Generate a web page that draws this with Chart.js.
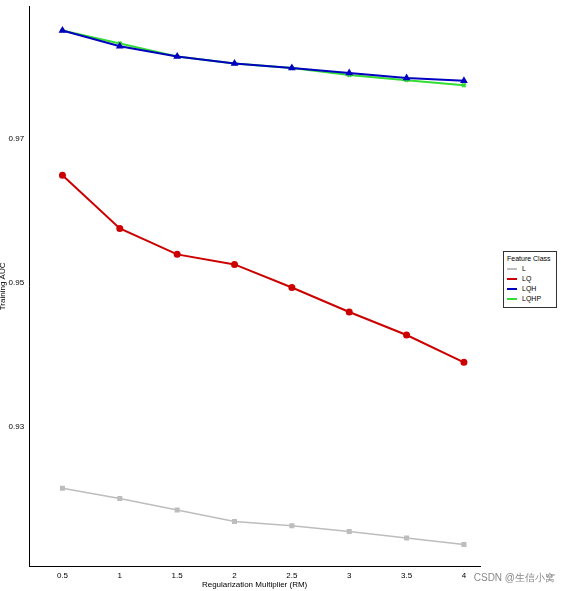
<!DOCTYPE html><html><head><meta charset="utf-8">
<script src="https://cdn.jsdelivr.net/npm/chart.js@4/dist/chart.umd.min.js"></script>
<style>body{margin:0;background:#fff;font-family:"Liberation Sans",Arial,sans-serif}
#w{position:relative;width:561px;height:591px}
#lg{position:absolute;left:503px;top:251px;width:54px;border:1px solid #333;background:#fff;font-size:7px;padding:3px 3px 2px 3px;box-sizing:border-box}
#lg div{margin:3px 0;display:flex;align-items:center}
#lg span.k{display:inline-block;width:10px;height:2px;margin-right:5px;position:relative}
#wm{position:absolute;right:6px;bottom:6px;font-size:10px;color:#888}
</style></head><body><div id="w"><canvas id="c" width="561" height="591"></canvas><div id="lg"></div><div id="wm">CSDN @生信小窝</div></div>
<script>
const xs=[0.5,1,1.5,2,2.5,3,3.5,4];
const names=["L","LQ","LQH","LQHP"];
const L=[0.9215,0.9201,0.9185,0.9169,0.9163,0.9155,0.9146,0.9137];
const LQ=[0.9650,0.9576,0.9540,0.9526,0.9494,0.9460,0.9428,0.9390];
const LQH=[0.9851,0.9829,0.9815,0.9805,0.9799,0.9792,0.9785,0.9781];
const LQHP=[0.9851,0.9833,0.9815,0.9805,0.9799,0.9789,0.9782,0.9775];
const yTicks=[0.93,0.95,0.97];
const colors=["#bdbdbd","#cc0000","#0000c0","#33dd33"];
const styles=["rect","circle","triangle","crossRot"];
const series=[L,LQ,LQH,LQHP];
const ds=series.map((s,i)=>({label:names[i],data:s.map((v,j)=>({x:xs[j],y:v})),borderColor:colors[i],backgroundColor:colors[i],pointStyle:styles[i],pointRadius:2.5,borderWidth:i==0?1.5:2}));
new Chart(document.getElementById('c'),{type:'line',data:{datasets:ds},options:{responsive:false,animation:false,
layout:{padding:{left:-2,right:81,top:5,bottom:-3}},
plugins:{legend:{display:false},tooltip:{enabled:false}},
scales:{x:{type:'linear',min:0.21,max:4.14,afterBuildTicks:a=>{a.ticks=xs.map(v=>({value:v}))},
ticks:{font:{size:8},color:'#000',padding:0,callback:v=>v},grid:{display:false,drawTicks:true,tickLength:4},border:{color:'#000'},
title:{display:true,text:'Regularization Multiplier (RM)',font:{size:8},color:'#000',padding:{top:0,bottom:4}}},
y:{min:0.9106,max:0.9885,afterBuildTicks:a=>{a.ticks=yTicks.map(v=>({value:v}))},
ticks:{font:{size:8},color:'#000',padding:1},grid:{display:false,tickLength:4},border:{color:'#000'},
title:{display:true,text:'Training AUC',font:{size:8},color:'#000',padding:{top:0,bottom:0}}}}}});
const lg=document.getElementById('lg');
lg.innerHTML='<div style="margin-top:0">Feature Class</div>'+names.map((n,i)=>`<div><span class="k" style="background:${colors[i]}"></span>${n}</div>`).join('');
</script></body></html>
